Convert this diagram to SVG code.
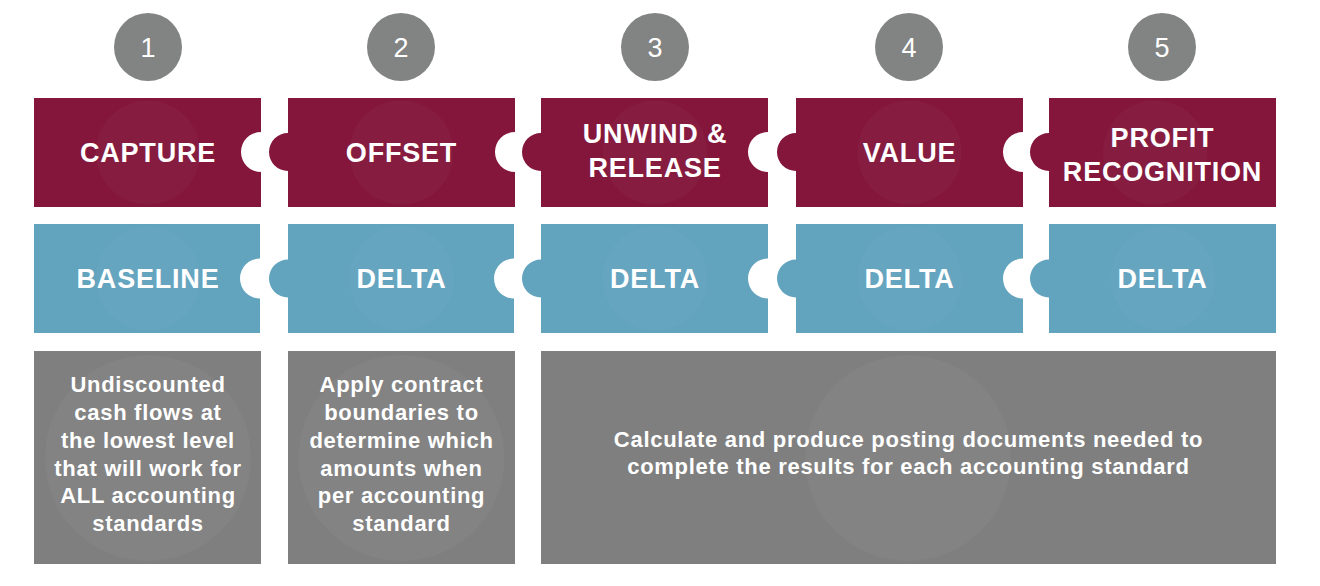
<svg xmlns="http://www.w3.org/2000/svg" width="1320" height="586" viewBox="0 0 1320 586">
<style>
.red{fill:#83163a}
.blue{fill:#62a3be}
.gray{fill:#7f7f7f}
.glow{fill:#ffffff;fill-opacity:0.03}
.num{fill:#828383}
.t{font-family:"Liberation Sans",Arial,sans-serif;fill:#ffffff;text-anchor:middle}
.hd{font-size:27px;font-weight:bold;letter-spacing:0.8px}
.nt{font-size:27px}
.bd{font-size:22px;font-weight:bold;letter-spacing:0.7px}
</style>
<rect width="1320" height="586" fill="#ffffff"/>
<g id="connectors"/>
<g id="step1">
<circle class="num" cx="148" cy="47" r="34"/>
<text class="t nt" x="148" y="57">1</text>
<path class="red" d="M34 98H261V132A20 20 0 0 0 261 172V207H34Z"/>
<circle class="glow" cx="148" cy="152.5" r="52"/>
<text class="t hd" x="148" y="162">CAPTURE</text>
<path class="blue" d="M34 224H260V258.5A20 20 0 0 0 260 298.5V333H34Z"/>
<circle class="glow" cx="148" cy="278.5" r="52"/>
<text class="t hd" x="148" y="288">BASELINE</text>
<rect class="gray" x="34" y="351" width="227" height="213"/>
<circle class="glow" cx="148" cy="458" r="103"/>
<text class="t bd" x="148" y="392">Undiscounted</text>
<text class="t bd" x="148" y="420">cash flows at</text>
<text class="t bd" x="148" y="448">the lowest level</text>
<text class="t bd" x="148" y="476">that will work for</text>
<text class="t bd" x="148" y="503">ALL accounting</text>
<text class="t bd" x="148" y="531">standards</text>
</g>
<g id="step2">
<circle class="num" cx="401" cy="47" r="34"/>
<text class="t nt" x="401" y="57">2</text>
<path class="red" d="M288 98H515V132A20 20 0 0 0 515 172V207H288V171A19 19 0 0 1 288 133Z"/>
<circle class="glow" cx="401.5" cy="152.5" r="52"/>
<text class="t hd" x="401.5" y="162">OFFSET</text>
<path class="blue" d="M288 224H514V258.5A20 20 0 0 0 514 298.5V333H288V297.5A19 19 0 0 1 288 259.5Z"/>
<circle class="glow" cx="401.5" cy="278.5" r="52"/>
<text class="t hd" x="401.5" y="288">DELTA</text>
<rect class="gray" x="288" y="351" width="227" height="213"/>
<circle class="glow" cx="401.5" cy="458" r="103"/>
<text class="t bd" x="401.5" y="392">Apply contract</text>
<text class="t bd" x="401.5" y="420">boundaries to</text>
<text class="t bd" x="401.5" y="448">determine which</text>
<text class="t bd" x="401.5" y="476">amounts when</text>
<text class="t bd" x="401.5" y="503">per accounting</text>
<text class="t bd" x="401.5" y="531">standard</text>
</g>
<g id="step3">
<circle class="num" cx="655" cy="47" r="34"/>
<text class="t nt" x="655" y="57">3</text>
<path class="red" d="M541 98H768V132A20 20 0 0 0 768 172V207H541V171A19 19 0 0 1 541 133Z"/>
<circle class="glow" cx="655" cy="152.5" r="52"/>
<text class="t hd" x="655" y="143">UNWIND &amp;</text>
<text class="t hd" x="655" y="177">RELEASE</text>
<path class="blue" d="M541 224H768V258.5A20 20 0 0 0 768 298.5V333H541V297.5A19 19 0 0 1 541 259.5Z"/>
<circle class="glow" cx="655" cy="278.5" r="52"/>
<text class="t hd" x="655" y="288">DELTA</text>
</g>
<g id="step4">
<circle class="num" cx="909" cy="47" r="34"/>
<text class="t nt" x="909" y="57">4</text>
<path class="red" d="M796 98H1023V132A20 20 0 0 0 1023 172V207H796V171A19 19 0 0 1 796 133Z"/>
<circle class="glow" cx="909.5" cy="152.5" r="52"/>
<text class="t hd" x="909.5" y="162">VALUE</text>
<path class="blue" d="M796 224H1023V258.5A20 20 0 0 0 1023 298.5V333H796V297.5A19 19 0 0 1 796 259.5Z"/>
<circle class="glow" cx="909.5" cy="278.5" r="52"/>
<text class="t hd" x="909.5" y="288">DELTA</text>
</g>
<g id="step5">
<circle class="num" cx="1162" cy="47" r="34"/>
<text class="t nt" x="1162" y="57">5</text>
<path class="red" d="M1049 98H1276V207H1049V171A19 19 0 0 1 1049 133Z"/>
<circle class="glow" cx="1155" cy="152.5" r="52"/>
<text class="t hd" x="1162.5" y="147">PROFIT</text>
<text class="t hd" x="1162.5" y="181">RECOGNITION</text>
<path class="blue" d="M1049 224H1276V333H1049V297.5A19 19 0 0 1 1049 259.5Z"/>
<circle class="glow" cx="1163" cy="278.5" r="52"/>
<text class="t hd" x="1162.5" y="288">DELTA</text>
</g>
<g id="results">
<rect class="gray" x="541" y="351" width="735" height="213"/>
<circle class="glow" cx="908" cy="458" r="103"/>
<text class="t bd" x="908.5" y="447">Calculate and produce posting documents needed to</text>
<text class="t bd" x="908.5" y="474">complete the results for each accounting standard</text>
</g>
</svg>
